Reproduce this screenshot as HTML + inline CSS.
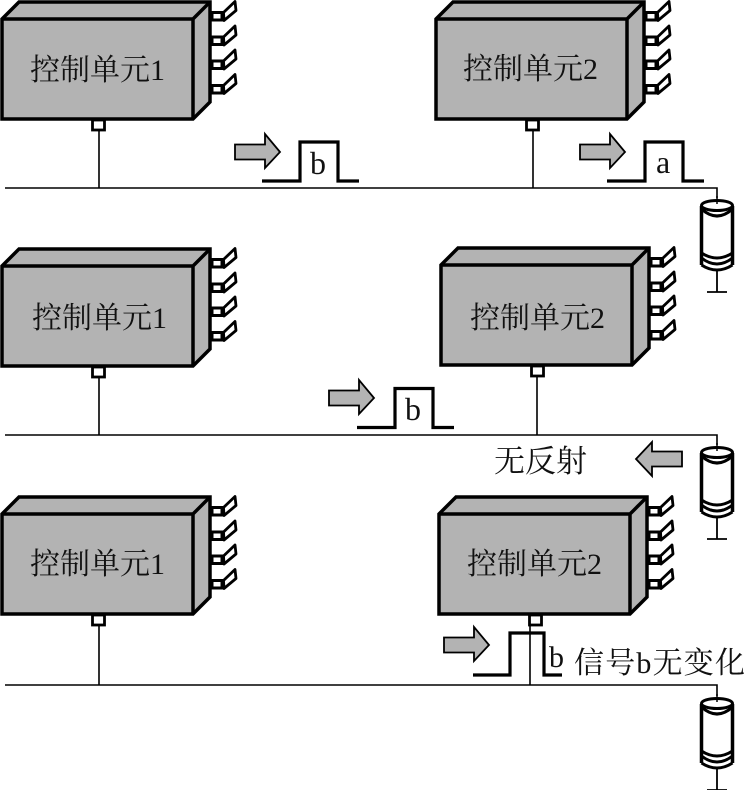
<!DOCTYPE html>
<html><head><meta charset="utf-8"><style>
html,body{margin:0;padding:0;background:#fff}
svg{display:block}
text{font-family:"Liberation Serif","Noto Serif CJK SC",serif;fill:#111}
</style></head><body>
<svg width="745" height="790" viewBox="0 0 745 790" xmlns="http://www.w3.org/2000/svg">
<defs>
<g id="pin">
<rect x="0" y="0" width="10" height="7.500" fill="#fff" stroke="#000" stroke-width="3"/>
<path d="M11.500 0 L23 -11 L24 -2 L12 8 Z" fill="#fff" stroke="#000" stroke-width="2.800" stroke-linejoin="round"/>
</g>
<g id="box">
<use href="#pin" x="212" y="12.500"/><use href="#pin" x="212" y="37"/><use href="#pin" x="212" y="61"/><use href="#pin" x="212" y="85.500"/>
<path d="M2 19 L19 2 L210 2 L210 102 L193 119 L2 119 Z" fill="#b3b3b3" stroke="#000" stroke-width="3.5" stroke-linejoin="miter"/>
<path d="M2 19 L193 19 L210 2 M193 19 L193 119" fill="none" stroke="#000" stroke-width="3.5"/>
<rect x="92.500" y="120" width="12" height="10" fill="#fff" stroke="#000" stroke-width="2.8"/>
</g>
<g id="res">
<path d="M-15.500 10 V69 M15.500 10 V69" fill="none" stroke="#000" stroke-width="3.5"/>
<ellipse cx="0" cy="9.500" rx="15.500" ry="5" fill="#fff" stroke="#000" stroke-width="3"/>
<path d="M-15.500 13 Q0 27 15.500 13" fill="none" stroke="#000" stroke-width="3"/>
<path d="M-15.500 57 Q0 67 15.500 57 M-15.500 62 Q0 74 15.500 62 M-15.500 69 Q0 79 15.500 69" fill="none" stroke="#000" stroke-width="3"/>
<path d="M0 74 V96 M-10 96 H10" stroke="#000" stroke-width="1.800" fill="none"/>
<path d="M0 0 V8" stroke="#000" stroke-width="1.500" fill="none"/>
</g>
<path id="arrow" d="M0 -7.500 H30 V-18 L45 0 L30 16 V7.500 H0 Z" fill="#b3b3b3" stroke="#000" stroke-width="1.800"/>
<path id="pulse" d="M0 0 H38 V-39 H76 V0 H97" fill="none" stroke="#000" stroke-width="3.2"/>
</defs>

<!-- Row 1 -->
<use href="#box" x="0" y="0"/>
<use href="#box" x="434" y="0"/>
<path d="M5 188 H717 V198 M99 131 V188 M533 131 V188" fill="none" stroke="#000" stroke-width="1.600"/>
<use href="#res" x="717" y="196"/>
<use href="#arrow" x="235" y="152"/>
<use href="#arrow" x="580" y="152"/>
<use href="#pulse" x="262" y="181"/>
<use href="#pulse" x="607" y="181"/>
<text x="30" y="80" font-size="30">控制单元1</text>
<text x="463" y="79" font-size="30">控制单元2</text>
<text x="310" y="174" font-size="32">b</text>
<text x="656" y="173" font-size="32">a</text>

<!-- Row 2 -->
<use href="#box" x="0" y="247"/>
<use href="#box" x="439" y="246"/>
<path d="M5 435 H717 V445 M99 377 V435 M537 377 V435" fill="none" stroke="#000" stroke-width="1.600"/>
<use href="#res" x="717" y="443"/>
<use href="#arrow" x="329" y="398"/>
<path d="M682 451.500 H652 V442 L636 459 L652 476 V466.500 H682 Z" fill="#b3b3b3" stroke="#000" stroke-width="1.800"/>
<use href="#pulse" x="357" y="427.500"/>
<text x="32" y="328" font-size="30">控制单元1</text>
<text x="470" y="328" font-size="30">控制单元2</text>
<text x="405" y="420" font-size="32">b</text>
<text x="494" y="472" font-size="31">无反射</text>

<!-- Row 3 -->
<use href="#box" x="0" y="495"/>
<use href="#box" x="437" y="495"/>
<path d="M5 685 H717 V696 M99 625 V685 M530 625 V685" fill="none" stroke="#000" stroke-width="1.600"/>
<use href="#res" x="717" y="694"/>
<use href="#arrow" x="444" y="645"/>
<path d="M473 675 H510 V633 H544 V675 H562" fill="none" stroke="#000" stroke-width="3.2"/>
<text x="30" y="574" font-size="30">控制单元1</text>
<text x="467" y="574" font-size="30">控制单元2</text>
<text x="549" y="667" font-size="30">b</text>
<text x="574" y="673" font-size="30" textLength="171" lengthAdjust="spacing">信号b无变化</text>
</svg>
</body></html>
